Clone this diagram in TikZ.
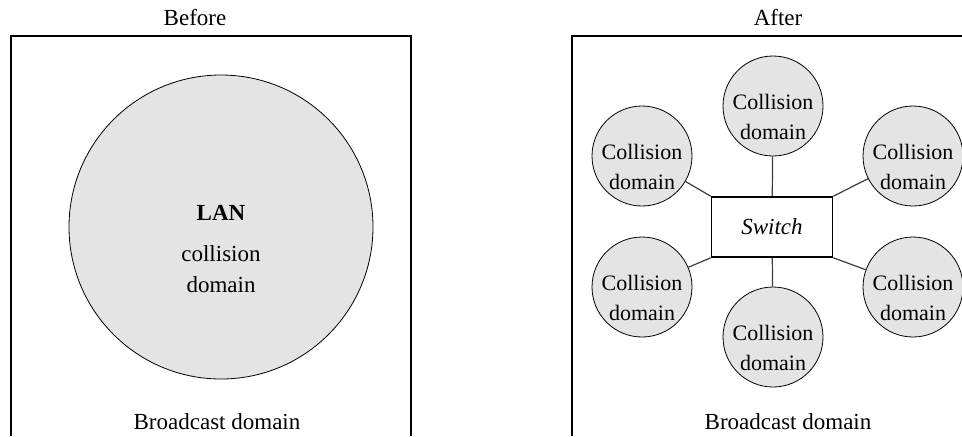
\documentclass[tikz,border=0pt]{standalone}
\usepackage{fontspec}
\setmainfont{Liberation Serif}
\usetikzlibrary{positioning}
\definecolor{domaingray}{RGB}{228,228,228}
\definecolor{linkgray}{RGB}{60,60,60}
\newcommand{\colldomain}{\rule{0pt}{19pt}Collision\\domain}

\begin{document}
\begin{tikzpicture}[x=0.5pt, y=-0.5pt,
    title/.style={font=\fontsize{11.5}{14}\selectfont},
    lan/.style={circle, draw=black, fill=domaingray, minimum size=152pt, inner sep=0pt},
    lantext/.style={align=center, font=\fontsize{11.5}{15.5}\selectfont},
    coll/.style={circle, draw=black, fill=domaingray, minimum size=50pt, inner sep=-4pt, align=center, font=\fontsize{11}{15}\selectfont},
    switchbox/.style={rectangle, draw=black, line width=0.8pt, fill=white, minimum width=60.5pt, minimum height=30pt, font=\fontsize{11.5}{14}\selectfont\itshape},
    frame/.style={line width=0.8pt, color=black},
    link/.style={line width=0.6pt, color=linkgray}
]
\useasboundingbox (0,0) rectangle (962,436);

% before
\draw[frame] (11,436) -- (11,36) -- (411,36) -- (411,436);
\node[title] (before) at (195,18) {Before};
\node[lan] (lan) at (221,227) {};
\node[lantext] (landomain) at ([yshift=-11pt]lan.center) {\textbf{LAN}\\[5pt]collision\\domain};
\node[title] (bcastbefore) at (217,422) {Broadcast domain};

% after
\draw[frame] (572,436) -- (572,36) -- (962,36);
\node[title] (after) at (778,18) {After};
\node[switchbox] (switch) at (772,227) {Switch};
\node[coll] (ctop) at (773,106) {\colldomain};
\node[coll] (cbot) at (773,337) {\colldomain};
\node[coll] (cul) at (642,156) {\colldomain};
\node[coll] (cll) at (642,287) {\colldomain};
\node[coll] (cur) at (913,156) {\colldomain};
\node[coll] (clr) at (913,287) {\colldomain};
\draw[link] (switch) -- (ctop);
\draw[link] (switch) -- (cbot);
\draw[link] (switch.north west) -- (cul);
\draw[link] (switch.south west) -- (cll);
\draw[link] (switch.north east) -- (cur);
\draw[link] (switch.south east) -- (clr);
\node[title] (bcastafter) at (788,422) {Broadcast domain};
\end{tikzpicture}
\end{document}
